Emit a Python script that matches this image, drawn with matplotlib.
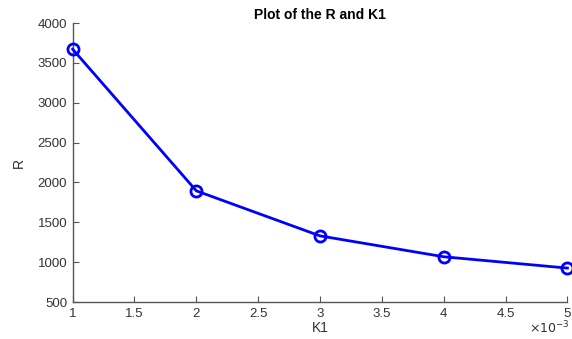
import matplotlib.pyplot as plt
from matplotlib.ticker import FuncFormatter

k1 = [1e-3, 2e-3, 3e-3, 4e-3, 5e-3]
r_vals = [3672, 1895, 1330, 1068, 926]
x_ticks = [1e-3, 1.5e-3, 2e-3, 2.5e-3, 3e-3, 3.5e-3, 4e-3, 4.5e-3, 5e-3]
y_ticks = [500, 1000, 1500, 2000, 2500, 3000, 3500, 4000]

plt.rcParams['font.family'] = ['Liberation Sans', 'DejaVu Sans']

fig = plt.figure(figsize=(5.72, 3.39), dpi=100)
ax = fig.add_axes([0.127, 0.109, 0.865, 0.823])

ax.plot(k1, r_vals, color='#0000ff', linewidth=2, marker='o', markersize=8,
        markerfacecolor='none', markeredgewidth=2, clip_on=False, zorder=3)

ax.set_xlim(1e-3, 5e-3)
ax.set_ylim(500, 4000)
ax.set_xticks(x_ticks)
ax.set_yticks(y_ticks)
ax.xaxis.set_major_formatter(FuncFormatter(lambda v, p: f"{v * 1e3:g}"))

gray = '#555555'
for side in ['top', 'right']:
    ax.spines[side].set_visible(False)
for side in ['left', 'bottom']:
    ax.spines[side].set_color(gray)
    ax.spines[side].set_linewidth(1.0)
ax.tick_params(direction='in', length=4, width=0.8, colors=gray,
               labelcolor='#333333', labelsize=9.5, pad=4)

ax.set_xlabel('K1', fontsize=10, color='#333333', labelpad=1)
ax.set_ylabel('R', fontsize=10, color='#333333', labelpad=8)
ax.set_title('Plot of the R and K1', fontsize=10, fontweight='bold', pad=3)
ax.text(1.005, -0.065, r'$\times10^{-3}$', transform=ax.transAxes, ha='right',
        va='top', fontsize=9, color='#333333')

fig.savefig('out.png', dpi=100)
